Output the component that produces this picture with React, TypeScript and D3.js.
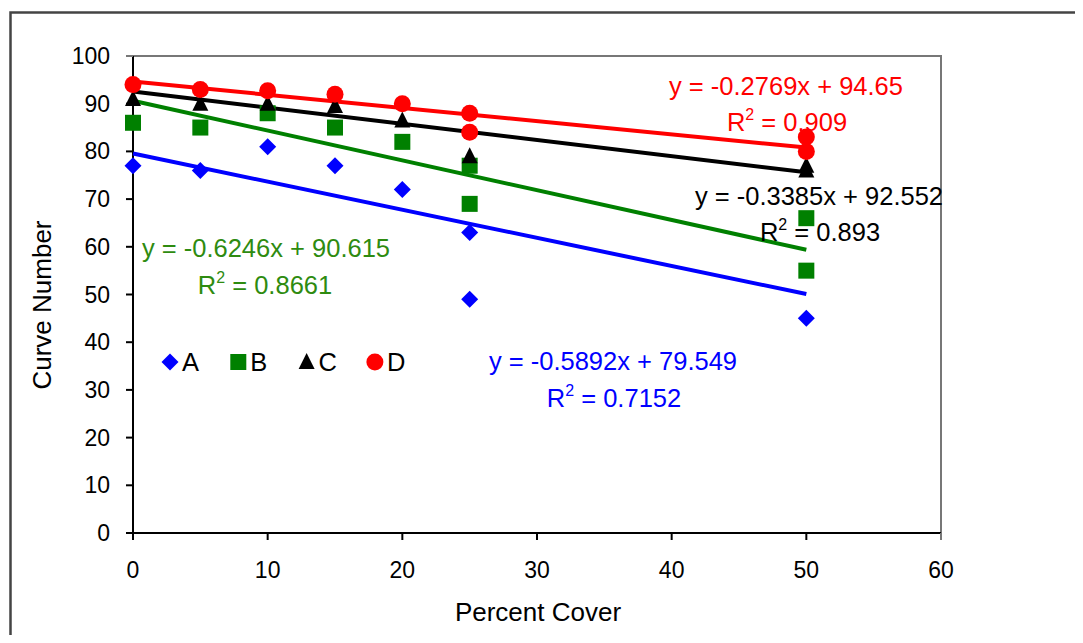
import React from "react";
import * as d3 from "d3";

// percent cover values and curve numbers
const xA = [0, 5, 10, 15, 20, 25, 25, 50];
const yA = [77, 76, 81, 77, 72, 63, 49, 45];
const xB = [0, 5, 10, 15, 20, 25, 25, 50, 50];
const yB = [86, 85, 88, 85, 82, 77, 69, 66, 55];
const xC = [0, 5, 10, 15, 20, 25, 50, 50];
const yC = [91, 90, 90, 89.5, 86.5, 79, 77, 76];
const xD = [0, 5, 10, 15, 20, 25, 25, 50, 50];
const yD = [94, 93, 92.7, 92, 90, 88, 84, 83, 80];

const seriesNames = ["A", "B", "C", "D"];
const slopes = [-0.5892, -0.6246, -0.3385, -0.2769];
const intercepts = [79.549, 90.615, 92.552, 94.65];
const rSquared = ["0.7152", "0.8661", "0.893", "0.909"];
const equations = ["y = -0.5892x + 79.549", "y = -0.6246x + 90.615", "y = -0.3385x + 92.552", "y = -0.2769x + 94.65"];

const xTicks = [0, 10, 20, 30, 40, 50, 60];
const yTicks = [0, 10, 20, 30, 40, 50, 60, 70, 80, 90, 100];

const colors = ["#0000ff", "#008000", "#000000", "#ff0000"];
const textColors = ["#0000ff", "#2e8b10", "#000000", "#ff0000"];
const font = "Liberation Sans, Arial, sans-serif";

const Marker = ({ kind, cx, cy, color }: { kind: number; cx: number; cy: number; color: string }) => {
  if (kind === 0) {
    const s = 8.5;
    return <path d={`M${cx},${cy - s}L${cx + s},${cy}L${cx},${cy + s}L${cx - s},${cy}Z`} fill={color} />;
  }
  if (kind === 1) return <rect x={cx - 8} y={cy - 8} width={16} height={16} fill={color} />;
  if (kind === 2) return <path d={`M${cx},${cy - 9}L${cx + 8},${cy + 7}L${cx - 8},${cy + 7}Z`} fill={color} />;
  return <circle cx={cx} cy={cy} r={8.5} fill={color} />;
};

export default function App() {
  const width = 1083;
  const height = 643;
  const plot = { left: 133, right: 941, top: 56, bottom: 533 };

  const x = d3.scaleLinear().domain([0, 60]).range([plot.left, plot.right]);
  const y = d3.scaleLinear().domain([0, 100]).range([plot.bottom, plot.top]);

  const xs = [xA, xB, xC, xD];
  const ys = [yA, yB, yC, yD];

  // label centres: [equation x, equation y, R² x, R² y]
  const labelPos = [
    [613, 361, 614, 398],
    [266, 248, 265, 285],
    [819, 196, 820, 232],
    [786, 86, 787, 122],
  ];
  const fs = 25.5;

  return (
    <div style={{ margin: -8 }}>
      <svg width={width} height={height} style={{ display: "block", fontFamily: font }}>
        <rect width={width} height={height} fill="#fff" />
        {/* outer frame */}
        <path d={`M10.5,${height}V12.5H${width}`} fill="none" stroke="#444" strokeWidth={2.5} />

        {/* plot frame */}
        <path d={`M${plot.left},${plot.top}H${plot.right}V${plot.bottom + 7}`} fill="none" stroke="#777" strokeWidth={2} />

        {/* y axis */}
        <line x1={plot.left} x2={plot.left} y1={plot.top} y2={plot.bottom} stroke="#000" strokeWidth={2} />
        {yTicks.map((t) => (
          <g key={"y" + t}>
            <line x1={plot.left - 7} x2={plot.left} y1={y(t)} y2={y(t)} stroke={t === 100 ? "#777" : "#000"} strokeWidth={2} />
            <text x={plot.left - 23} y={y(t)} dy="0.35em" textAnchor="end" fontSize={23} fill="#000">
              {t}
            </text>
          </g>
        ))}

        {/* x axis */}
        <line x1={plot.left} x2={plot.right} y1={plot.bottom} y2={plot.bottom} stroke="#000" strokeWidth={2} />
        {xTicks.map((t) => (
          <g key={"x" + t}>
            <line x1={x(t)} x2={x(t)} y1={plot.bottom} y2={plot.bottom + 7} stroke={t === 60 ? "#777" : "#000"} strokeWidth={2} />
            <text x={x(t)} y={570} dy="0.35em" textAnchor="middle" fontSize={23} fill="#000">
              {t}
            </text>
          </g>
        ))}

        <text x={538} y={612} dy="0.35em" textAnchor="middle" fontSize={26} fill="#000">
          Percent Cover
        </text>
        <text transform="translate(42,305) rotate(-90)" dy="0.35em" textAnchor="middle" fontSize={26} fill="#000">
          Curve Number
        </text>

        {/* trend lines */}
        {seriesNames.map((name, i) => {
          const path = d3
            .line<number>()
            .x((d) => x(d))
            .y((d) => y(slopes[i] * d + intercepts[i]))([0, 50]);
          return <path key={"t" + name} d={path ?? ""} fill="none" stroke={colors[i]} strokeWidth={4} />;
        })}

        {/* points */}
        {seriesNames.map((name, i) =>
          xs[i].map((v, j) => <Marker key={name + j} kind={i} cx={x(v)} cy={y(ys[i][j])} color={colors[i]} />)
        )}

        {/* equations */}
        {seriesNames.map((name, i) => (
          <g key={"eq" + name} fill={textColors[i]} fontSize={fs}>
            <text x={labelPos[i][0]} y={labelPos[i][1]} dy="0.35em" textAnchor="middle">
              {equations[i]}
            </text>
            <text x={labelPos[i][2]} y={labelPos[i][3]} dy="0.35em" textAnchor="middle">
              R<tspan fontSize={16} dy={-11}>2</tspan>
              <tspan dy={11}> = {rSquared[i]}</tspan>
            </text>
          </g>
        ))}

        {/* legend */}
        {seriesNames.map((name, i) => {
          const lx = 170 + i * 68.3;
          return (
            <g key={"lg" + name}>
              <Marker kind={i} cx={lx} cy={362} color={colors[i]} />
              <text x={lx + 12} y={362} dy="0.35em" fontSize={fs} fill="#000">
                {name}
              </text>
            </g>
          );
        })}
      </svg>
    </div>
  );
}
